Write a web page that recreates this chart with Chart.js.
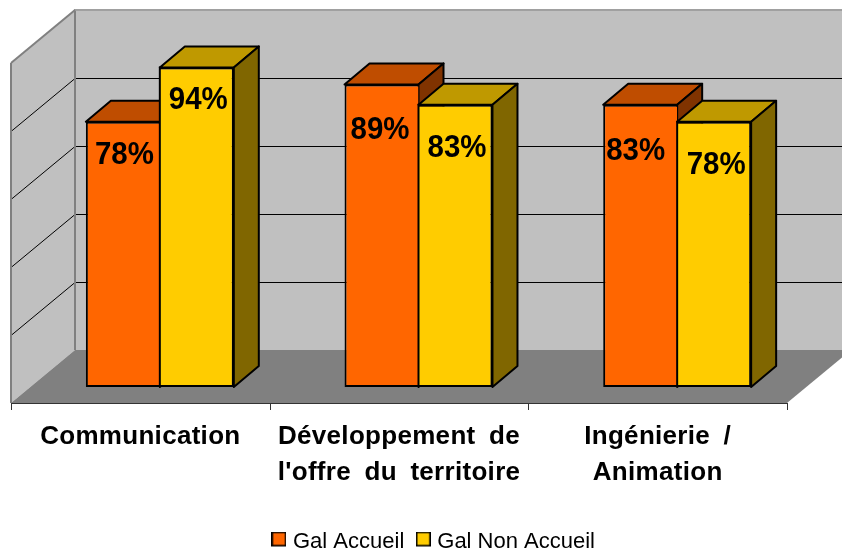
<!DOCTYPE html>
<html>
<head>
<meta charset="utf-8">
<style>html,body{margin:0;padding:0;background:#fff}canvas{display:block}</style>
<script src="https://cdn.jsdelivr.net/npm/chart.js@4"></script>
</head>
<body>
<canvas id="c" width="842" height="550"></canvas>
<script>
const categories = [["Communication"], ["Développement de", "l'offre du territoire"], ["Ingénierie /", "Animation"]];
const galAccueil = [78, 89, 83];
const galNonAccueil = [94, 83, 78];
const gridValues = [0, 20, 40, 60, 80, 100];

// Oblique projection used for the fake 3D box
const FRONT = {dx: -19.5, dy: 16};   // front plane relative to the bars' plane
const WALL = {dx: 64, dy: -53};      // back wall relative to the front plane
const BAR = {dx: 25, dy: -21};       // depth of a bar
const SHADES = [
  {front: '#FF6600', top: '#BF4D00', side: '#803300'},
  {front: '#FFCC00', top: '#BF9900', side: '#806600'}
];
// Small nudges of the value labels [dataset][category]: x, y below bar top
const NUDGE = [
  [[1.5, 33], [-1.5, 46], [-4.5, 46]],
  [[1.5, 33], [1.5, 43], [2, 43]]
];

function poly(ctx, pts, fill, stroke, lw) {
  ctx.beginPath();
  pts.forEach((p, i) => i ? ctx.lineTo(p[0], p[1]) : ctx.moveTo(p[0], p[1]));
  ctx.closePath();
  if (fill) { ctx.fillStyle = fill; ctx.fill(); }
  if (stroke) { ctx.strokeStyle = stroke; ctx.lineWidth = lw; ctx.lineJoin = 'round'; ctx.stroke(); }
}
function line(ctx, x1, y1, x2, y2, color, lw) {
  ctx.beginPath(); ctx.moveTo(x1, y1); ctx.lineTo(x2, y2);
  ctx.strokeStyle = color; ctx.lineWidth = lw; ctx.stroke();
}
function swatch(color) {
  const s = document.createElement('canvas');
  s.width = 15; s.height = 21;   // transparent strip below lifts the box level with the text
  const g = s.getContext('2d');
  g.fillStyle = color; g.fillRect(0, 0, 15, 15);
  g.strokeStyle = '#000'; g.lineWidth = 1.6; g.strokeRect(0.8, 0.8, 13.4, 13.4);
  return s;
}

const box3d = {
  id: 'box3d',
  afterLayout(chart) {
    const l = chart.legend;
    l.left += 17; l.right += 17;
    const h = l.bottom - l.top;
    l.top = 515; l.bottom = 515 + h;
    // the reference's axis labels are slightly letter-spaced
    const s = chart.scales.x;
    if (!s._spaced) {
      const draw = s.drawLabels;
      s.drawLabels = function (area) {
        chart.ctx.letterSpacing = '0.3px';
        chart.ctx.wordSpacing = '6px';
        draw.call(this, area);
        chart.ctx.letterSpacing = '0px';
        chart.ctx.wordSpacing = '0px';
      };
      s._spaced = true;
    }
  },
  beforeDatasetsDraw(chart) {
    const ctx = chart.ctx, x = chart.scales.x, y = chart.scales.y;
    const fl = x.left + FRONT.dx, fr = x.right + FRONT.dx;
    const fy0 = y.getPixelForValue(0) + FRONT.dy, fy1 = y.getPixelForValue(100) + FRONT.dy;
    const bl = fl + WALL.dx, br = fr + WALL.dx, by0 = fy0 + WALL.dy, by1 = fy1 + WALL.dy;
    ctx.save();
    // back wall
    poly(ctx, [[bl, by1], [br, by1], [br, by0], [bl, by0]], '#C0C0C0');
    // side wall
    poly(ctx, [[fl, fy1], [bl, by1], [bl, by0], [fl, fy0]], '#C0C0C0');
    // gridlines
    gridValues.slice(1, -1).forEach(v => {
      const py = Math.round(y.getPixelForValue(v) + FRONT.dy + WALL.dy) + 0.5;
      line(ctx, bl, py, br, py, '#000', 1);
      line(ctx, bl, py, fl, py - WALL.dy, '#000', 1);
    });
    // wall outlines
    line(ctx, bl, by0, bl, by1, '#808080', 2);
    line(ctx, bl - 1, by1, br, by1, '#A0A0A0', 2);
    line(ctx, fl, fy0, fl, fy1, '#808080', 2);
    line(ctx, fl, fy1, bl, by1, '#808080', 2);
    // floor
    poly(ctx, [[fl, fy0], [bl, by0], [br, by0], [fr, fy0]], '#808080');
    // category axis in the front plane
    line(ctx, fl, fy0 + 0.5, fr, fy0 + 0.5, '#333', 1);
    for (let i = 0; i <= categories.length; i++) {
      const t = Math.round(fl + (fr - fl) * i / categories.length) + 0.5;
      line(ctx, t, fy0, t, fy0 + 7, '#333', 1);
    }
    ctx.restore();
  },
  // Bars are painted below, first series first, so the second one overlaps the first's side
  beforeDatasetDraw() { return false; },
  afterDatasetsDraw(chart) {
    const ctx = chart.ctx;
    chart.data.datasets.forEach((ds, di) => {
      const s = SHADES[di], meta = chart.getDatasetMeta(di);
      ctx.save();
      meta.data.forEach(b => {
        const p = b.getProps(['x', 'y', 'base', 'width'], true);
        const l = p.x - p.width / 2, r = p.x + p.width / 2;
        poly(ctx, [[l, p.y], [l + BAR.dx, p.y + BAR.dy], [r + BAR.dx, p.y + BAR.dy], [r, p.y]], s.top, '#000', 2);
        poly(ctx, [[r, p.y], [r + BAR.dx, p.y + BAR.dy], [r + BAR.dx, p.base + BAR.dy], [r, p.base]], s.side, '#000', 2);
      });
      ctx.restore();
      meta.controller.draw();
      if (di === 1) {
        // single shared divider between the two bars of a group
        ctx.save();
        meta.data.forEach(b => {
          const p = b.getProps(['x', 'y', 'base', 'width'], true);
          const l = p.x - p.width / 2;
          line(ctx, l, p.y - 1, l, p.base - 1, '#000', 2);
        });
        ctx.restore();
      }
    });
    ctx.save();
    ctx.fillStyle = '#000';
    ctx.font = 'bold 32px "Liberation Sans", Arial, sans-serif';
    ctx.textAlign = 'center';
    ctx.textBaseline = 'middle';
    chart.data.datasets.forEach((ds, di) => {
      chart.getDatasetMeta(di).data.forEach((b, i) => {
        const n = NUDGE[di][i];
        ctx.save();
        ctx.translate(b.x + n[0], b.y + n[1]);
        ctx.scale(0.92, 1);
        ctx.fillText(ds.data[i] + '%', 0, 0);
        ctx.restore();
      });
    });
    ctx.restore();
  }
};

new Chart(document.getElementById('c'), {
  type: 'bar',
  plugins: [box3d],
  data: {
    labels: categories,
    datasets: [
      {label: 'Gal Accueil', data: galAccueil, backgroundColor: SHADES[0].front, borderColor: '#000', borderWidth: {top: 2, left: 2, bottom: 2, right: 0}, borderSkipped: false},
      {label: 'Gal Non Accueil', data: galNonAccueil, backgroundColor: SHADES[1].front, borderColor: '#000', borderWidth: {top: 2, left: 0, bottom: 2, right: 2}, borderSkipped: false}
    ]
  },
  options: {
    responsive: false,
    animation: false,
    layout: {padding: {top: 47, left: 30.5, right: 35.5, bottom: 0}},
    datasets: {bar: {barPercentage: 1, categoryPercentage: 0.572, clip: false}},
    plugins: {
      tooltip: {enabled: false},
      legend: {
        position: 'bottom',
        labels: {
          usePointStyle: true,
          pointStyleWidth: 6,
          padding: 16,
          color: '#000',
          font: {family: '"Liberation Sans", Arial, sans-serif', size: 22},
          generateLabels: c => c.data.datasets.map((d, i) => ({
            text: d.label, datasetIndex: i, hidden: false, fontColor: '#000',
            pointStyle: swatch(d.backgroundColor)
          }))
        }
      }
    },
    scales: {
      x: {
        grid: {display: false},
        border: {display: false},
        afterFit: s => { s.height = 115; },
        ticks: {
          autoSkip: false, maxRotation: 0, minRotation: 0,
          labelOffset: FRONT.dx, padding: 24, color: '#000',
          font: {family: '"Liberation Sans", Arial, sans-serif', size: 26, weight: 'bold', lineHeight: 1.385}
        }
      },
      y: {display: false, min: 0, max: 100, ticks: {stepSize: 20}}
    }
  }
});
</script>
</body>
</html>
